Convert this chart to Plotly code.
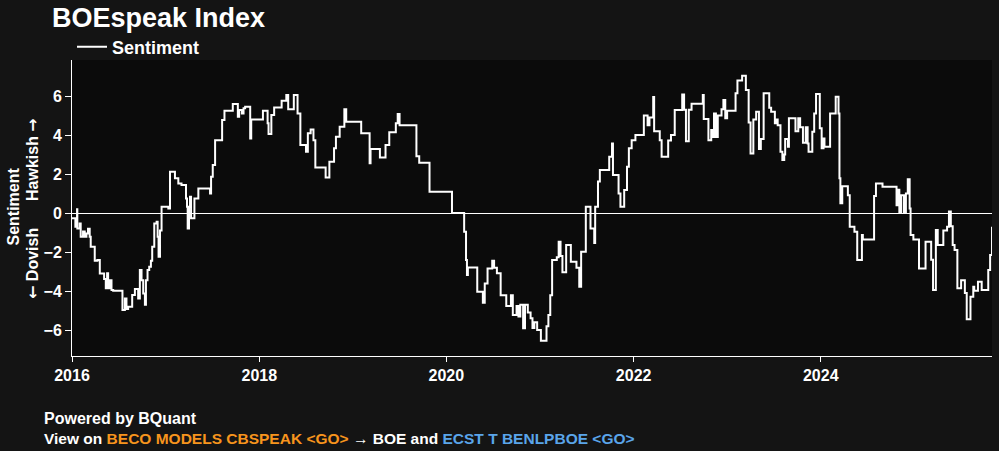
import numpy as np
import pandas as pd
import plotly.graph_objects as go

# Decimal-year timestamps and sentiment readings
decimal_years = [
    2016.000, 2016.036, 2016.054, 2016.057, 2016.082, 2016.093, 2016.118, 2016.136, 2016.154, 2016.171,
    2016.189, 2016.200, 2016.243, 2016.271, 2016.297, 2016.343, 2016.361, 2016.375, 2016.386, 2016.404,
    2016.422, 2016.440, 2016.539, 2016.565, 2016.582, 2016.600, 2016.643, 2016.672, 2016.707, 2016.725,
    2016.743, 2016.761, 2016.779, 2016.790, 2016.807, 2016.825, 2016.843, 2016.857, 2016.879, 2016.904,
    2016.915, 2016.925, 2016.940, 2016.957, 2017.029, 2017.047, 2017.100, 2017.136, 2017.170, 2017.218,
    2017.229, 2017.236, 2017.250, 2017.261, 2017.272, 2017.300, 2017.308, 2017.350, 2017.475, 2017.486,
    2017.504, 2017.529, 2017.604, 2017.629, 2017.718, 2017.772, 2017.786, 2017.815, 2017.833, 2017.850,
    2017.904, 2017.915,
    2018.040, 2018.090, 2018.100, 2018.130, 2018.160, 2018.240, 2018.290, 2018.310, 2018.370, 2018.410,
    2018.440, 2018.500, 2018.520, 2018.550, 2018.580, 2018.600, 2018.710, 2018.750, 2018.800, 2018.820,
    2018.860, 2018.910, 2018.930, 2019.090, 2019.180, 2019.190, 2019.290, 2019.350, 2019.390, 2019.460,
    2019.480, 2019.500, 2019.680, 2019.710, 2019.820, 2020.060, 2020.190, 2020.210, 2020.220, 2020.230,
    2020.330, 2020.390, 2020.410, 2020.440, 2020.490, 2020.510, 2020.540, 2020.580, 2020.640, 2020.690,
    2020.710, 2020.750, 2020.770, 2020.790, 2020.820, 2020.840, 2020.870, 2020.900, 2020.920, 2020.940,
    2020.970, 2021.010, 2021.070, 2021.090, 2021.110, 2021.130, 2021.180, 2021.200, 2021.220, 2021.240,
    2021.280, 2021.330, 2021.390, 2021.420, 2021.440, 2021.490, 2021.540, 2021.580, 2021.590, 2021.620,
    2021.640, 2021.740, 2021.770, 2021.780, 2021.840, 2021.860, 2021.900, 2021.930, 2021.950, 2021.980,
    2022.020, 2022.110, 2022.150, 2022.170, 2022.210, 2022.220, 2022.280, 2022.300, 2022.370, 2022.400,
    2022.440, 2022.520, 2022.540, 2022.560, 2022.590, 2022.620, 2022.740, 2022.750, 2022.800, 2022.830,
    2022.840, 2022.860, 2022.880, 2022.900, 2022.940, 2022.960, 2022.980, 2023.000, 2023.090, 2023.110,
    2023.160, 2023.200, 2023.230, 2023.250, 2023.280, 2023.310, 2023.340, 2023.360, 2023.390, 2023.450,
    2023.470, 2023.510, 2023.520, 2023.540, 2023.570, 2023.590, 2023.610, 2023.620, 2023.650, 2023.660,
    2023.730, 2023.760, 2023.780, 2023.810, 2023.840, 2023.860, 2023.870, 2023.910, 2023.930, 2023.950,
    2023.990, 2024.010, 2024.030, 2024.040, 2024.100, 2024.160, 2024.190, 2024.200, 2024.210, 2024.230,
    2024.290, 2024.310, 2024.360, 2024.390, 2024.440, 2024.450, 2024.570, 2024.590, 2024.660, 2024.720,
    2024.810, 2024.830, 2024.840, 2024.860, 2024.890, 2024.910, 2024.930, 2024.950, 2024.960, 2024.990,
    2025.050, 2025.120, 2025.180, 2025.200, 2025.230, 2025.250, 2025.310, 2025.350, 2025.370, 2025.390,
    2025.410, 2025.430, 2025.460, 2025.500, 2025.540, 2025.560, 2025.600, 2025.630, 2025.640, 2025.680,
    2025.720, 2025.790, 2025.810, 2025.830, 2025.860,
]
sentiment = [
    -0.27, -0.70, 0.19, -0.79, -0.53, -1.21, -0.95, -1.21, -1.05, -0.80,
    -1.21, -1.73, -2.45, -2.41, -3.10, -3.38, -3.86, -3.09, -3.86, -3.44,
    -3.95, -3.98, -4.97, -4.38, -4.92, -4.80, -4.20, -3.90, -4.38, -2.92,
    -3.44, -4.12, -4.70, -3.44, -2.92, -2.75, -2.45, -1.73, -0.53, -0.44,
    -1.21, -2.24, -0.90, 0.33, 0.24, 2.12, 1.78, 1.52, 1.44, 0.75,
    0.33, -0.79, 0.33, 0.84, -0.27, -0.27, 0.75, 1.26, 1.01, 1.86,
    2.46, 3.74, 4.77, 5.25, 5.59, 4.94, 5.28, 5.11, 5.37, 5.45,
    3.83, 4.80,
    5.25, 4.60, 4.05, 5.03, 5.42, 5.76, 6.05, 5.32, 6.05, 5.11,
    3.49, 3.15, 4.09, 4.29, 3.74, 2.34, 1.83, 2.63, 3.32, 3.91,
    4.43, 5.32, 4.68, 4.09, 2.55, 3.28, 2.85, 3.49, 4.14, 4.60,
    5.08, 4.51, 2.92, 2.58, 1.09, 0.00, -0.96, -2.41, -3.18, -2.79,
    -4.03, -4.60, -3.61, -2.84, -2.44, -2.80, -3.09, -4.21, -4.77, -4.21,
    -5.23, -4.77, -5.30, -4.70, -5.91, -4.70, -5.10, -5.40, -5.90, -5.60,
    -6.00, -6.55, -5.80, -5.23, -4.21, -2.41, -2.27, -1.47, -2.20, -3.03,
    -1.64, -2.50, -2.80, -3.78, -1.98, 0.33, -0.79, -1.54, 0.33, 1.62,
    2.21, 2.89, 3.57, 1.95, 1.00, 0.33, 1.18, 2.38, 3.32, 3.74,
    4.00, 5.01, 4.50, 4.90, 5.95, 4.20, 3.74, 2.89, 3.72, 4.00,
    5.28, 6.08, 5.30, 3.68, 5.30, 5.60, 6.05, 4.82, 3.74, 4.26,
    3.90, 5.10, 3.90, 5.00, 5.32, 5.80, 4.86, 5.25, 6.15, 6.80,
    7.04, 6.31, 4.64, 3.06, 4.80, 5.20, 3.28, 3.80, 6.14, 5.40,
    5.20, 4.60, 4.80, 4.50, 3.15, 2.72, 3.00, 3.80, 3.40, 4.86,
    4.20, 4.86, 4.40, 3.60, 4.40, 3.57, 3.15, 4.17, 5.11, 6.10,
    4.35, 3.32, 3.83, 3.40, 5.11, 5.97, 5.11, 1.78, 0.50, 1.38,
    0.92, -0.70, -0.96, -2.41, -1.13, -1.35, 0.87, 1.52, 1.35, 1.35,
    0.40, 1.20, 0.00, 0.92, 0.00, 1.00, 1.73, 0.24, -1.13, -1.35,
    -2.84, -1.47, -2.40, -3.95, -0.87, -1.64, -0.90, -0.70, 0.08, -0.68,
    -1.64, -1.90, -3.86, -3.44, -4.10, -5.45, -4.29, -3.78, -3.98, -3.52,
    -3.95, -2.92, -2.15, -0.70,
]

y_ticks = [-6, -4, -2, 0, 2, 4, 6]
x_tick_years = [2016, 2018, 2020, 2022, 2024]

yrs = np.array(decimal_years)
dates = pd.Timestamp("2016-01-01") + pd.to_timedelta((yrs - 2016.0) * 365.25, unit="D")
tick_dates = [pd.Timestamp(f"{y}-01-01") for y in x_tick_years]

FONT = "Arial, Liberation Sans, sans-serif"
ORANGE = "#f7941d"
BLUE = "#5aa5ea"
ARROW = "<span style='font-family:DejaVu Sans'>%s</span>"

fig = go.Figure()
fig.add_trace(go.Scatter(
    x=dates, y=sentiment, mode="lines", name="<b>Sentiment</b>",
    line=dict(color="#ffffff", width=2, shape="hv"),
))

fig.update_layout(
    width=999, height=451,
    paper_bgcolor="#141414", plot_bgcolor="#0b0b0b",
    margin=dict(l=72, r=7, t=60, b=95),
    font=dict(family=FONT, color="#ffffff"),
    title=dict(text="<b>BOEspeak Index</b>", x=52/999, xanchor="left", xref="container",
               y=1-18/451, yanchor="middle", yref="container",
               font=dict(size=27, color="#ffffff", family=FONT)),
    showlegend=True,
    legend=dict(orientation="h", x=0, xanchor="left", y=(356-47)/296, yanchor="middle",
                bgcolor="rgba(0,0,0,0)", font=dict(size=18, color="#ffffff", family=FONT)),
    xaxis=dict(
        type="date", showgrid=False, zeroline=False,
        showline=True, linecolor="#ffffff", linewidth=1,
        ticks="outside", tickcolor="#ffffff", ticklen=5,
        tickvals=tick_dates, ticktext=[f"<b>{y}</b>" for y in x_tick_years],
        tickfont=dict(size=16, color="#ffffff", family=FONT),
    ),
    yaxis=dict(
        range=[-7.33, 7.85], showgrid=False,
        zeroline=True, zerolinecolor="#ffffff", zerolinewidth=1,
        showline=True, linecolor="#ffffff", linewidth=1,
        ticks="outside", tickcolor="#ffffff", ticklen=6,
        tickvals=y_ticks, ticktext=[f"<b>{'−' if v < 0 else ''}{abs(v)}</b>" for v in y_ticks],
        tickfont=dict(size=16, color="#ffffff", family=FONT),
    ),
)

ann_font = dict(size=16, color="#ffffff", family=FONT)
fig.add_annotation(text="<b>Sentiment</b>", xref="paper", yref="paper",
                   x=(12.5-72)/920, y=(356-207)/296, textangle=-90, showarrow=False,
                   xanchor="center", yanchor="middle", font=ann_font)
fig.add_annotation(text="<b>Hawkish " + ARROW % "→" + "</b>", xref="paper", yref="paper",
                   x=(32-72)/920, y=(356-160)/296, textangle=-90, showarrow=False,
                   xanchor="center", yanchor="middle", font=ann_font)
fig.add_annotation(text="<b>" + ARROW % "←" + " Dovish</b>", xref="paper", yref="paper",
                   x=(32-72)/920, y=(356-264)/296, textangle=-90, showarrow=False,
                   xanchor="center", yanchor="middle", font=ann_font)

fig.add_annotation(text="<b>Powered by BQuant</b>", xref="paper", yref="paper",
                   x=(42-72)/920, y=(356-419)/296, xanchor="left", yanchor="middle",
                   showarrow=False, font=dict(size=16, color="#ffffff", family=FONT))
fig.add_annotation(
    text=("<b>View on <span style='color:%s'>BECO MODELS CBSPEAK &lt;GO&gt;</span> → BOE and "
          "<span style='color:%s'>ECST T BENLPBOE &lt;GO&gt;</span></b>") % (ORANGE, BLUE),
    xref="paper", yref="paper", x=(42-72)/920, y=(356-438)/296,
    xanchor="left", yanchor="middle", showarrow=False,
    font=dict(size=15.5, color="#ffffff", family=FONT))

fig.write_html("out.html", config={"displayModeBar": False},
               post_script="document.body.style.margin='0';document.body.style.background='#141414';")
